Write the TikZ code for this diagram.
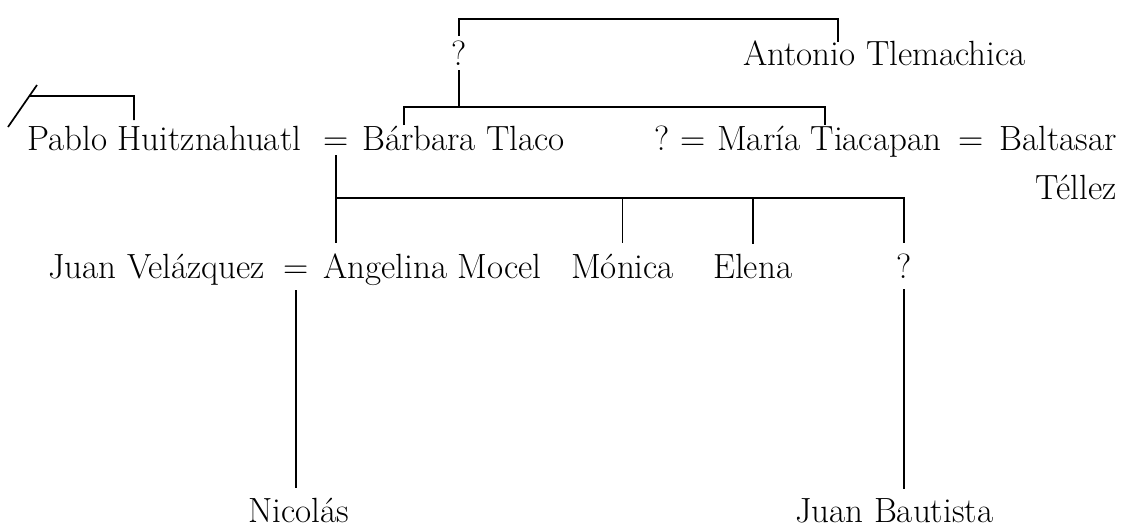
\documentclass[tikz,border=0pt]{standalone}
\usetikzlibrary{calc}
\begin{document}
\begin{tikzpicture}[x=1pt,y=-1pt,
  person/.style={inner sep=0pt, font=\fontsize{35}{42}\selectfont},
  link/.style={line width=1.7pt, line cap=butt}]
\useasboundingbox (0,0) rectangle (1122,530);
% generation 0
\node[person, anchor=base] (q0) at (459,65) {?};
\node[person, anchor=base west] (antonio) at (743,65) {Antonio Tlemachica};
% generation 1
\node[person, anchor=base west] (pablo) at (27,150) {Pablo Huitznahuatl};
\node[person, anchor=base] (eq1) at (336,150) {=};
\node[person, anchor=base west] (barbara) at (362,150) {Bárbara Tlaco};
\node[person, anchor=base west] (q1) at (654,150) {?};
\node[person, anchor=base] (eqA) at (693,150) {=};
\node[person, anchor=base west] (maria) at (717,150) {María Tiacapan};
\node[person, anchor=base] (eqB) at (971,150) {=};
\node[person, anchor=base east] (baltasar) at (1117,150) {Baltasar};
\node[person, anchor=base east] (tellez) at (1117,199) {Téllez};
% generation 2
\node[person, anchor=base west] (juan) at (48,278) {Juan Velázquez};
\node[person, anchor=base] (eq2) at (296,278) {=};
\node[person, anchor=base west] (angelina) at (323,278) {Angelina Mocel};
\node[person, anchor=base west] (monica) at (571,278) {Mónica};
\node[person, anchor=base west] (elena) at (713,278) {Elena};
\node[person, anchor=base] (q2) at (904,278) {?};
% generation 3
\node[person, anchor=base west] (nicolas) at (248,522) {Nicolás};
\node[person, anchor=base west] (bautista) at (795,522) {Juan Bautista};
% helper coordinates
\coordinate (bar0) at (0,19);
\coordinate (bar1) at (0,107);
\coordinate (bar2) at (0,198);
\coordinate (barP) at (0,96);
\coordinate (antI) at (838,42);
\coordinate (barbR) at ($(barbara.base west)+(42,-25)$);
\coordinate (mariaT) at (825,125);
\coordinate (pabloH) at (134,120);
\coordinate (slashA) at (8,127);
\coordinate (slashB) at (37,85);
% connectors
\draw[link] ($(q0.north)+(0,-4)$) |- (bar0 -| antI) -- (antI);
\draw[link] ($(q0.base)+(0,5)$) -- (q0 |- bar1);
\draw[link] (barbR) |- (bar1 -| mariaT) -- (mariaT);
\draw[link] (slashA) -- (slashB);
\draw[link] ($(slashA)!0.738!(slashB)$) -- (barP -| pabloH) -- (pabloH);
\draw[link] ($(eq1.base)+(0,5)$) -- ($(eq1.base |- angelina.north)+(0,-10)$);
\draw[link] (eq1 |- bar2) -- (q2 |- bar2) -- ($(q2.north)+(0,-10)$);
\draw[link] (monica |- bar2) -- ($(monica.north)+(0,-10)$);
\draw[link] (elena |- bar2) -- ($(elena.north)+(0,-10)$);
\draw[link] ($(eq2.base)+(0,12)$) -- ($(eq2.base |- nicolas.north)+(0,-9)$);
\draw[link] ($(q2.base)+(0,11)$) -- ($(q2.base |- bautista.north)+(0,-9)$);
\end{tikzpicture}
\end{document}
